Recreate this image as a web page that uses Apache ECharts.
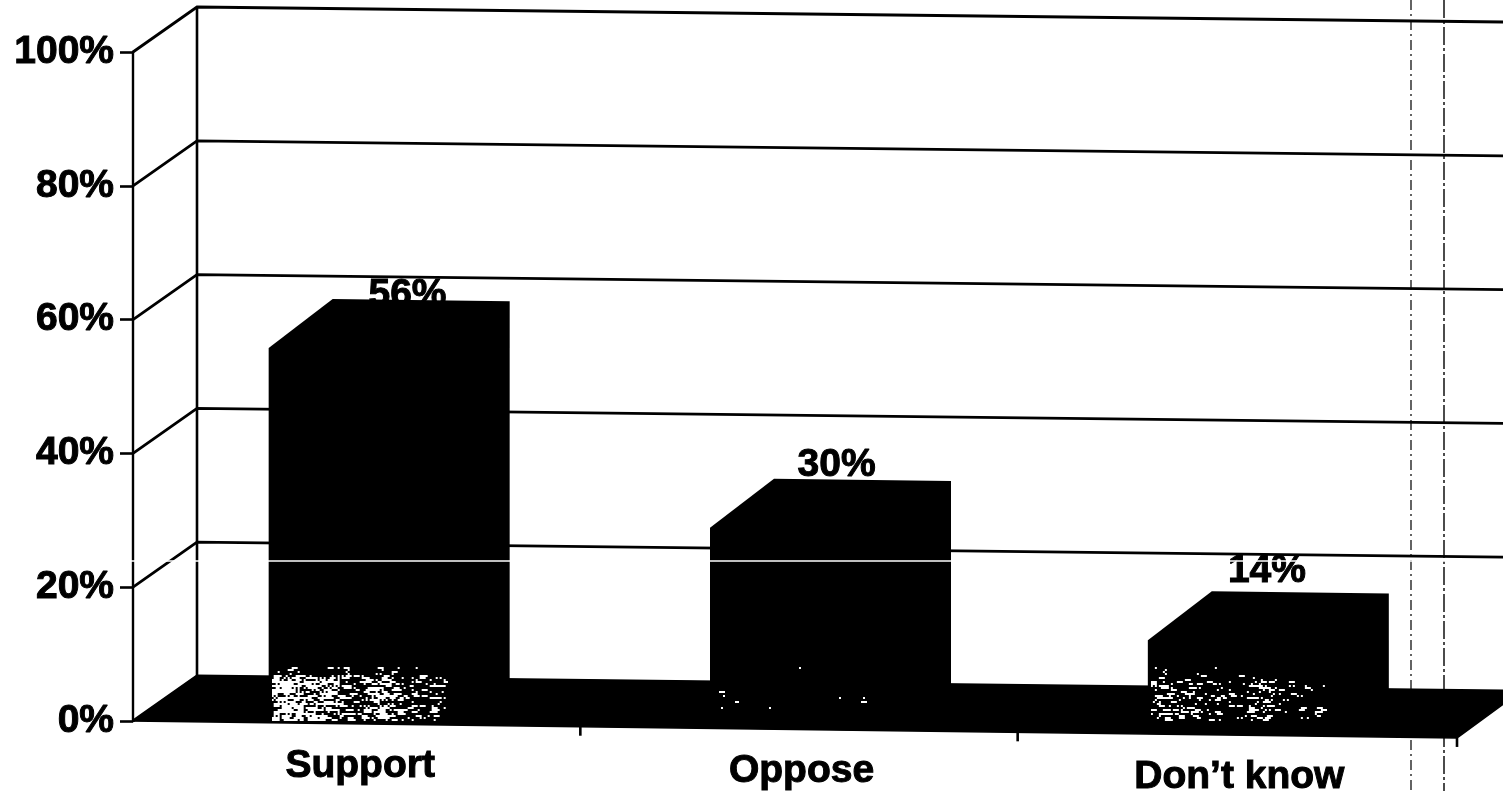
<!DOCTYPE html>
<html>
<head>
<meta charset="utf-8">
<style>html,body{margin:0;padding:0;background:#fff}#c{width:1503px;height:791px}</style>
<script src="https://cdn.jsdelivr.net/npm/echarts@6/dist/echarts.min.js"></script>
</head>
<body>
<div id="c"></div>
<script>
const categories = ['Support', 'Oppose', 'Don\u2019t know'];
const values = [56, 30, 14];
const yTicks = [0, 20, 40, 60, 80, 100];
const speckleStrength = [1, 0.035, 0.36];
const speckleTopFade = [8, 18, 14];
const barNudge = [3.5, 3.5, 0];
const tickNudge = [6, 2, 0];

const FONT = 'bold 39px "Liberation Sans", Arial, sans-serif';
const DX = 64, DY = -45, BAR_DY = -49, SLOPE_F = 0.0128, SLOPE_B = 0.0115, BAR_W = 177;
const INK = '#000';

function hash(x, y) {
  const s = Math.sin(x * 12.9898 + y * 78.233) * 43758.5453;
  return s - Math.floor(s);
}
function speckle(strength, seed, topFade) {
  const w = 176, h = 54, cv = document.createElement('canvas');
  cv.width = w; cv.height = h;
  const g = cv.getContext('2d');
  g.fillStyle = '#fff';
  for (let y = 0; y < h; y += 2) {
    for (let x = 0; x < w; x += 2) {
      const fx = x / w;
      const cluster = 0.22 + 0.7 * Math.exp(-Math.pow((fx - 0.08) / 0.12, 2))
        + 0.35 * Math.exp(-Math.pow((fx - 0.3) / 0.12, 2))
        + 0.7 * Math.exp(-Math.pow((fx - 0.62) / 0.07, 2));
      const fade = fx > 0.98 ? 0 : (y < topFade ? 0.2 : 1);
      if (hash(x + seed, y) < 0.62 * strength * cluster * fade) {
        const long = hash(y, x + seed) > 0.6;
        g.fillRect(x, y, long ? 6 : 2, 2);
      }
    }
  }
  return cv;
}
const speckles = speckleStrength.map((s, i) => speckle(s, 7 + i * 31, speckleTopFade[i]));

function wallItem(params, api) {
  const cs = params.coordSys;
  const y = api.coord([0, api.value(1)])[1];
  const x0 = cs.x, x1 = x0 + DX, x2 = cs.x + cs.width + DX;
  const by = y + DY;
  const style = { stroke: INK, lineWidth: 2.8, fill: 'none' };
  return {
    type: 'polyline',
    shape: { points: [[x0, y], [x1, by], [x2, by + SLOPE_B * (x2 - x1)]] },
    style: style, silent: true
  };
}
function backPost(params, api) {
  const cs = params.coordSys;
  const x = cs.x + DX;
  const top = api.coord([0, 100])[1] + DY, bot = api.coord([0, 0])[1] + DY;
  return {
    type: 'line', shape: { x1: x, y1: top, x2: x, y2: bot },
    style: { stroke: INK, lineWidth: 2.6 }, silent: true
  };
}
function floorItem(params, api) {
  const cs = params.coordSys;
  const y = api.coord([0, 0])[1];
  const xl = cs.x, xr = cs.x + cs.width;
  const children = [{
    type: 'polygon',
    shape: { points: [[xl, y], [xl + DX, y + DY], [xr + DX, y + DY + SLOPE_B * (xr - xl)], [xr, y + SLOPE_F * (xr - xl)]] },
    style: { fill: INK, stroke: INK, lineWidth: 1.5 }
  }];
  for (let i = 1; i <= categories.length; i++) {
    const tx = xl + cs.width * i / categories.length + tickNudge[i - 1];
    const ty = y + SLOPE_F * (tx - xl);
    children.push({ type: 'line', shape: { x1: tx, y1: ty, x2: tx, y2: ty + 9 }, style: { stroke: INK, lineWidth: 2.6 } });
  }
  return { type: 'group', children: children, silent: true };
}
function barItem(params, api) {
  const cs = params.coordSys;
  const i = api.value(0), v = api.value(1);
  const cx = api.coord([i, 0])[0] + barNudge[i];
  const xa = cx - BAR_W / 2, xb = cx + BAR_W / 2;
  const sk = x => SLOPE_F * (x - cs.x);
  const y0 = api.coord([i, 0])[1], yv = api.coord([i, v])[1];
  const lx = cx + 24 + 0.47 * v;
  const backTop = yv + BAR_DY + sk(xa);
  return {
    type: 'group', silent: true,
    children: [
      { type: 'text', style: { text: v + '%', x: lx, y: backTop - (25 - 0.38 * v), font: FONT, fill: INK, stroke: INK, lineWidth: 1, align: 'center', verticalAlign: 'middle' } },
      { type: 'polygon', shape: { points: [
        [xa, y0 + sk(xa)], [xa, yv + sk(xa)], [xa + DX, yv + BAR_DY + sk(xa)],
        [xb + DX, yv + BAR_DY + sk(xb)], [xb + DX, y0 + DY + sk(xb)], [xb, y0 + sk(xb)]
      ] }, style: { fill: INK } },
      { type: 'image', style: { image: speckles[i], x: xa + 3, y: y0 - 54, width: 176, height: 54 } },
      { type: 'text', style: { text: categories[i], x: cx + 3, y: y0 + sk(cx) + 42, font: FONT, fill: INK, stroke: INK, lineWidth: 1, align: 'center', verticalAlign: 'middle' } }
    ]
  };
}

const chart = echarts.init(document.getElementById('c'), null, { renderer: 'canvas', width: 1503, height: 791 });
chart.setOption({
  backgroundColor: '#fff',
  animation: false,
  grid: { left: 133, top: 52, width: 1324, height: 669, containLabel: false },
  xAxis: { type: 'category', data: categories, axisLine: { show: false }, axisTick: { show: false }, axisLabel: { show: false }, splitLine: { show: false } },
  yAxis: {
    type: 'value', min: 0, max: 100, interval: 20,
    axisLine: { show: true, lineStyle: { color: INK, width: 2.4 } },
    axisTick: { show: true, length: 13, lineStyle: { color: INK, width: 2.6 } },
    axisLabel: { margin: 19, color: INK, fontFamily: '"Liberation Sans", Arial, sans-serif', fontWeight: 'bold', fontSize: 39, textBorderColor: INK, textBorderWidth: 1, padding: [5, 0, 0, 0], formatter: '{value}%' },
    splitLine: { show: false }
  },
  graphic: [
    { type: 'line', z: 1, silent: true, shape: { x1: 1411, y1: 0, x2: 1411, y2: 791 }, style: { stroke: '#111', lineWidth: 1.3, lineDash: [10, 4, 2, 4] } },
    { type: 'line', z: 1, silent: true, shape: { x1: 1444, y1: 0, x2: 1444, y2: 791 }, style: { stroke: '#111', lineWidth: 1.5, lineDash: [18, 3, 3, 3] } },
    { type: 'line', z: 100, silent: true, shape: { x1: 0, y1: 561, x2: 1503, y2: 561 }, style: { stroke: '#fff', lineWidth: 1.5 } }
  ],
  series: [
    { type: 'custom', z: 2, clip: false, renderItem: wallItem, data: yTicks.map(t => [0, t]), encode: { x: 0, y: 1 } },
    { type: 'custom', z: 2, clip: false, renderItem: backPost, data: [[0, 0]], encode: { x: 0, y: 1 } },
    { type: 'custom', z: 3, clip: false, renderItem: floorItem, data: [[0, 0]], encode: { x: 0, y: 1 } },
    { type: 'custom', z: 4, clip: false, renderItem: barItem, data: values.map((v, i) => [i, v]), encode: { x: 0, y: 1 } }
  ]
});
</script>
</body>
</html>
